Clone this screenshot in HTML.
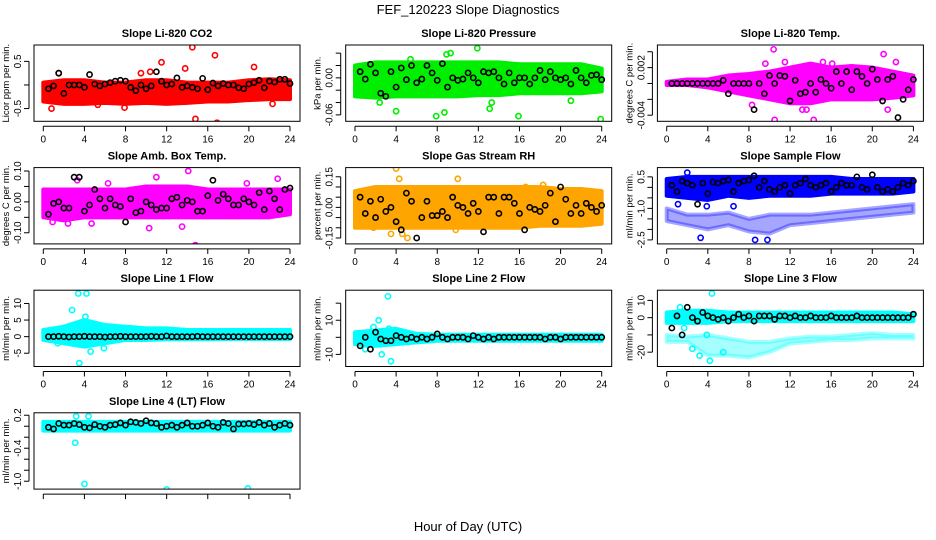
<!DOCTYPE html>
<html><head><meta charset="utf-8"><style>
body{margin:0;background:#fff;}
svg{display:block;font-family:"Liberation Sans",sans-serif;}
</style></head><body>
<svg id="c" width="936" height="540" viewBox="0 0 936 540">
<text x="468" y="14" text-anchor="middle" font-size="13">FEF_120223  Slope Diagnostics</text>
<text x="468" y="531" text-anchor="middle" font-size="13">Hour of Day (UTC)</text>
</svg>
<script>
const xTicks=[0,4,8,12,16,20,24];
const titles=["Slope Li-820 CO2","Slope Li-820 Pressure","Slope Li-820 Temp.","Slope Amb. Box Temp.","Slope Gas Stream RH","Slope Sample Flow","Slope Line 1 Flow","Slope Line 2 Flow","Slope Line 3 Flow","Slope Line 4 (LT) Flow"];
const yTitles=["Licor ppm per min.","kPa per min.","degrees C per min.","degrees C per min.","percent per min.","ml/min per min.","ml/min per min.","ml/min per min.","ml/min per min.","ml/min per min."];
const colors=["#ff0000","#00ee00","#ff00ff","#ff00ff","#ffa500","#0000ff","#00ffff","#00ffff","#00ffff","#00ffff"];
const yDomains=[[-0.77,0.847],[-0.0704,0.0532],[-0.00477,0.00485],[-0.136,0.111],[-0.179,0.195],[-2.69,0.94],[-9,14],[-17.1,27.6],[-28.3,15.9],[-1.143,0.244]];
const yTickVals=[[-0.5,0,0.5],[-0.06,-0.04,-0.02,0,0.02,0.04],[-0.004,-0.002,0,0.002,0.004],[-0.1,-0.05,0,0.05,0.1],[-0.15,-0.1,-0.05,0,0.05,0.1,0.15],[-2.5,-2,-1.5,-1,-0.5,0,0.5],[-5,0,5,10],[-10,0,10,20],[-20,-10,0,10],[-1,-0.8,-0.6,-0.4,-0.2,0,0.2]];
const yTickLabels=[["-0.5","","0.5"],["-0.06","","","0.00","",""],["-0.004","","","0.002",""],["-0.10","","0.00","","0.10"],["-0.15","","","0.00","","","0.15"],["-2.5","","","-1.0","","","0.5"],["-5","0","5","10"],["-10","","10",""],["-20","","0","10"],["-1.0","","","-0.4","","","0.2"]];
const bandLo=[
[[-0.35,-0.4,-0.4,-0.38,-0.4,-0.38,-0.4,-0.38,-0.35,-0.35,-0.32,-0.3,-0.3]],
[[-0.03,-0.032,-0.03,-0.03,-0.03,-0.03,-0.028,-0.028,-0.025,-0.025,-0.025,-0.025,-0.022]],
[[-0.0002,-0.0002,-0.0005,-0.001,-0.0015,-0.002,-0.0025,-0.0025,-0.002,-0.002,-0.002,-0.0018,-0.0015]],
[[-0.05,-0.06,-0.05,-0.05,-0.05,-0.05,-0.05,-0.05,-0.05,-0.05,-0.05,-0.05,-0.04]],
[[-0.1,-0.1,-0.1,-0.1,-0.1,-0.1,-0.1,-0.1,-0.1,-0.09,-0.09,-0.09,-0.08]],
[[-0.4,-0.5,-0.6,-0.4,-0.5,-0.4,-0.4,-0.4,-0.3,-0.3,-0.3,-0.3,-0.2],[-1.6,-1.8,-2.0,-1.8,-2.1,-2.2,-1.8,-1.7,-1.6,-1.5,-1.4,-1.3,-1.2]],
[[-1,-2,-3,-2,-1,-1,-0.8,-0.8,-0.8,-0.7,-0.7,-0.7,-0.7]],
[[-4,-5,-4,-3,-2,-2,-2,-2,-2,-2,-2,-2,-2]],
[[-3,-3,-3,-2,-2,-2,-2,-2,-2,-2,-2,-2,-2],[-14,-14,-22,-22,-23,-20,-15,-14,-13,-13,-12,-12,-12]],
[[-0.08,-0.08,-0.08,-0.08,-0.08,-0.08,-0.08,-0.08,-0.08,-0.08,-0.08,-0.08,-0.08]]];
const bandHi=[
[[0.05,0.1,0.1,0.05,0.05,0.1,0.1,0.05,0.05,0.05,0.1,0.12,0.1]],
[[0.02,0.025,0.025,0.025,0.025,0.025,0.025,0.025,0.022,0.022,0.022,0.022,0.015]],
[[0.0002,0.0005,0.0005,0.001,0.0012,0.0015,0.002,0.0025,0.002,0.0022,0.002,0.0015,0.001]],
[[0.04,0.04,0.04,0.04,0.04,0.05,0.05,0.05,0.04,0.04,0.04,0.04,0.04]],
[[0.08,0.1,0.1,0.1,0.1,0.1,0.1,0.1,0.1,0.1,0.09,0.09,0.08]],
[[0.4,0.5,0.5,0.5,0.5,0.5,0.5,0.5,0.5,0.4,0.4,0.4,0.4],[-1.0,-1.3,-1.3,-1.2,-1.5,-1.3,-1.3,-1.3,-1.2,-1.1,-1.0,-0.9,-0.8]],
[[2,3,5,3.5,3,2.5,2.5,2,2,2,2,2,2]],
[[3,4,5,2,1.5,1.5,1.5,1.5,1.5,1.5,1.5,1.5,1.5]],
[[3,4,4,3,3,3,3,3,3,3,3,3,2],[-10,-11,-10,-12,-14,-14,-12,-11,-11,-10,-9,-10,-10]],
[[0.08,0.08,0.08,0.08,0.08,0.08,0.08,0.08,0.08,0.08,0.08,0.08,0.08]]];
const bandOpacity=[[1],[1],[1],[1],[1],[1,0.35],[1],[1],[1,0.35],[1]];
const outlierT=[
[0.8,1.5,5.3,7.9,9.5,10.4,11.5,13.8,14.5,14.8,16.7,16.9,20.5,22.3],
[4,7.9,8.7,8.9,9.3,11.9,13.1,13.3,15.9,21,23.9,5.4,2.4],
[10.4,10.5,8.3,13.2,13.6,14.3,21.1,21.5,22.3,11.5,15.2,9.6,16.1],
[3.3,4.7,14.1,14.8,13.5,10.3,2.4,0.9,22.8,6.3,11,19.8],
[4,4.3,2.6,3.5,4.6,5.1,1.8,10,18.3,16.6,9.8],
[3.3,8.6,9.8,3.9,1.1,2.0,6.5],
[3.4,4.2,2.8,4.1,3.5,4.6,5.9,1.4],
[3.2,3.5,2.6,2.3,3.3,1.8,1.0],
[4.4,4.2,3.2,2.5,5.5,3.9,1.3,1.7],
[3.2,4.4,3.1,4.0,12,19.9,6.1]];
const outlierV=[
[-0.5,0.25,-0.42,-0.48,0.25,0.28,0.48,0.35,0.8,-0.72,0.63,-0.8,0.38,-0.4],
[-0.054,-0.062,-0.056,0.038,0.04,0.048,-0.05,-0.04,-0.062,-0.037,-0.067,0.03,-0.04],
[0.0043,-0.0046,-0.0027,-0.0033,-0.0033,-0.0046,0.0037,-0.0033,0.0027,0.0027,0.0027,0.0025,0.0025],
[0.07,-0.07,0.1,-0.14,-0.08,-0.085,-0.07,-0.065,0.075,0.06,0.08,0.06],
[0.19,0.14,-0.2,-0.13,-0.13,-0.15,-0.1,0.14,0.11,0.1,-0.11],
[-2.4,-2.5,-2.5,-0.9,-0.8,0.7,-0.9],
[13,13,8,6,-8,-4.5,-3.5,-2],
[24,-14,-10,10,5,6,-7],
[14,-25,-22,-18,-20,-10,6,-6],
[0.18,0.18,-0.3,-1.05,-1.15,-1.13,-0.05]];
const blackV=[
[-0.08,-0.02,0.25,-0.18,0,0,0,-0.05,0.22,0.02,-0.02,0.02,0.05,0.08,0.1,0.08,-0.05,-0.12,0,-0.08,-0.02,0.28,0.08,0.0,0.02,0.15,-0.05,-0.02,-0.05,-0.08,0.14,-0.1,0.04,-0.02,0.03,0,0,-0.06,-0.08,0.02,0.05,0.1,-0.06,0.08,0.06,0.12,0.12,0.03],
[0.01,-0.002,0.022,0.008,-0.025,-0.03,0.01,-0.015,0.016,-0.003,0.02,-0.008,-0.002,0.02,0.008,-0.004,0.023,-0.015,0.0,-0.004,-0.002,0.008,0.0,-0.008,0.01,0.008,0.01,0.0,-0.01,0.008,-0.008,0.0,0.0,-0.01,0.0,0.012,-0.003,0.01,0.0,-0.003,0.0,-0.01,0.012,0.0,-0.008,0.004,0.005,-0.003],
[0,0,0,0,0,0,0,0,0,0,0.0004,-0.0013,0,0,0,0,-0.0033,0,-0.0013,0.001,0,0.001,0.0009,-0.0022,0.0004,-0.0013,-0.0011,0,-0.0011,0.0005,0,-0.0006,0.0015,0,0.0015,-0.0008,0.0015,0.0009,0,0.0018,0.0005,-0.0022,0.0005,0.0009,-0.0043,-0.002,-0.0008,0.0005],
[-0.04,-0.005,0.0,-0.02,-0.02,0.08,0.08,-0.03,-0.01,0.04,0.01,-0.02,0.01,-0.01,-0.015,-0.065,0.01,-0.035,-0.03,0,-0.01,-0.025,-0.02,-0.02,0.01,0.015,-0.01,0.005,0.0,-0.03,-0.03,0.02,0.07,0.005,0.025,0.01,-0.01,-0.01,0.01,0,-0.01,0.03,-0.025,0.035,0.01,-0.025,0.04,0.045],
[0.05,-0.03,0.03,-0.05,0.04,-0.02,0,-0.07,-0.11,0.07,0.03,-0.15,-0.05,0.03,-0.04,-0.04,-0.02,-0.05,0.05,0.01,0,-0.03,0.02,-0.02,-0.12,0.05,0.05,-0.03,0.05,0.05,0.02,-0.03,-0.11,0.0,-0.01,-0.02,0.01,0.07,-0.07,0.10,0.04,-0.03,0.01,-0.03,0.02,0.0,-0.02,0.01],
[0.1,-0.2,0.3,0.2,0.1,-0.8,0.2,-0.3,0.25,0.2,0.3,0.35,-0.2,0.2,0.3,0.35,0.55,0.0,0.3,-0.1,-0.2,0.0,0.1,-0.3,0.1,0.2,0.4,0.1,0.0,0.1,0.2,-0.2,0.0,0.2,0.1,0.1,0.5,0.0,-0.1,0.6,0.0,-0.2,-0.1,-0.2,0.0,0.2,0.1,0.3],
[0,0,0.1,0,-0.1,0,0,0.1,0,0,0,-0.1,0,0,0.1,0,0,0,0,0,0.1,0,0,0.2,0,0,0,0,0,0.1,0,0,0,0,0,0,0,0,0,0,0,0,0,0,0,0,0,0],
[-5,0,-7,3,-1,-2,-2,1,0,-1,0,-1,0,-1,0,2,0,-1,0,0,0,-1,1,0,-1,0,-1,0,0,0,0,0,0,0,0,0,-1,0,0,-1,0,0,0,0,0,0,0,0],
[-6,1,-10,6,0,-2,3,1,0,-1,0,-2,0,2,0,1,-2,1,1,1,-1,1,1,0,1,0,0,1,0,0,0,1,0,0,0,0,1,0,0,0,0,0,0,0,0,0,0,2],
[-0.02,-0.05,0.05,0.02,0.02,0.05,0.03,-0.02,-0.03,0.03,0.0,-0.02,0.02,0.03,0.06,0.02,0.08,0.07,0.05,0.1,0.06,0.05,-0.02,0.0,0.02,-0.02,0.02,0.06,0.0,0.0,0.02,0.06,0.0,-0.02,0.07,0.05,-0.05,0.04,0.04,0.05,0.03,0.07,0.02,0.05,-0.02,0.02,0.05,0.02]];

const NS="http://www.w3.org/2000/svg";
const svg=document.getElementById('c');
function mk(tag,attrs,parent){const e=document.createElementNS(NS,tag);for(const k in attrs)e.setAttribute(k,attrs[k]);(parent||svg).appendChild(e);return e;}
const BW=266,BH=76.3;
for(let p=0;p<10;p++){
  const col=p%3,row=Math.floor(p/3);
  const L=34+col*311.7,T=45+row*122.6,R=L+BW,B=T+BH;
  const x0=L+9.3,x1=L+256;
  const xs=t=>x0+(x1-x0)*t/24;
  const [ymin,ymax]=yDomains[p];
  const ys=v=>B-(v-ymin)/(ymax-ymin)*BH;
  const g=mk('g',{});
  
  
  const clipId='clip'+p;
  const cp=mk('clipPath',{id:clipId},g);mk('rect',{x:L,y:T,width:BW,height:BH},cp);
  const pg=mk('g',{'clip-path':'url(#'+clipId+')'},g);
  bandLo[p].forEach((lo,bi)=>{
    const hi=bandHi[p][bi];const n=lo.length;let pts=[];
    for(let i=0;i<n;i++)pts.push(xs(i*24/(n-1))+','+ys(hi[i]));
    for(let i=n-1;i>=0;i--)pts.push(xs(i*24/(n-1))+','+ys(lo[i]));
    const poly=mk('polygon',{points:pts.join(' '),fill:colors[p],'fill-opacity':bandOpacity[p][bi],stroke:colors[p],'stroke-width':4,'stroke-linejoin':'round','stroke-opacity':bandOpacity[p][bi]},pg);
    
    
  });
  outlierT[p].forEach((t,i)=>{
    const c=mk('circle',{cx:xs(t),cy:ys(outlierV[p][i]),r:2.6,fill:'none',stroke:colors[p],'stroke-width':1.6},pg);
    
    
  });
  const bv=blackV[p];
  bv.forEach((v,i)=>{
    const c=mk('circle',{cx:xs((i+1)*24/bv.length),cy:ys(v),r:2.6,fill:'none',stroke:'#000','stroke-width':1.6},pg);
    
    
  });
  const box=mk('rect',{x:L,y:T,width:BW,height:BH,fill:'none',stroke:'#000','stroke-width':1},g);
  
  
  const tt=mk('text',{x:(L+R)/2,y:T-8,'text-anchor':'middle','font-size':11,'font-weight':'bold'},g);tt.textContent=titles[p];
  
  
  mk('line',{x1:x0,y1:B+5,x2:x1,y2:B+5,stroke:'#000'},g);
  xTicks.forEach(t=>{
    mk('line',{x1:xs(t),y1:B+5,x2:xs(t),y2:B+10,stroke:'#000'},g);
    if(row<3){const tx=mk('text',{x:xs(t),y:B+21,'text-anchor':'middle','font-size':10},g);tx.textContent=t;
      
      }
  });
  const yt=yTickVals[p];
  mk('line',{x1:L-5,y1:ys(yt[0]),x2:L-5,y2:ys(yt[yt.length-1]),stroke:'#000'},g);
  yt.forEach((v,i)=>{
    const y=ys(v);
    mk('line',{x1:L-10,y1:y,x2:L-5,y2:y,stroke:'#000'},g);
    const lab=yTickLabels[p][i];
    if(lab){const tx=mk('text',{x:L-13,y:y,'text-anchor':'middle','font-size':10,transform:'rotate(-90 '+(L-13)+' '+y+')'},g);tx.textContent=lab;
      
      }
  });
  const ytl=mk('text',{x:L-25,y:(T+B)/2,'text-anchor':'middle','font-size':9.5,transform:'rotate(-90 '+(L-25)+' '+((T+B)/2)+')'},g);ytl.textContent=yTitles[p];
  
  
}
</script>
</body></html>
